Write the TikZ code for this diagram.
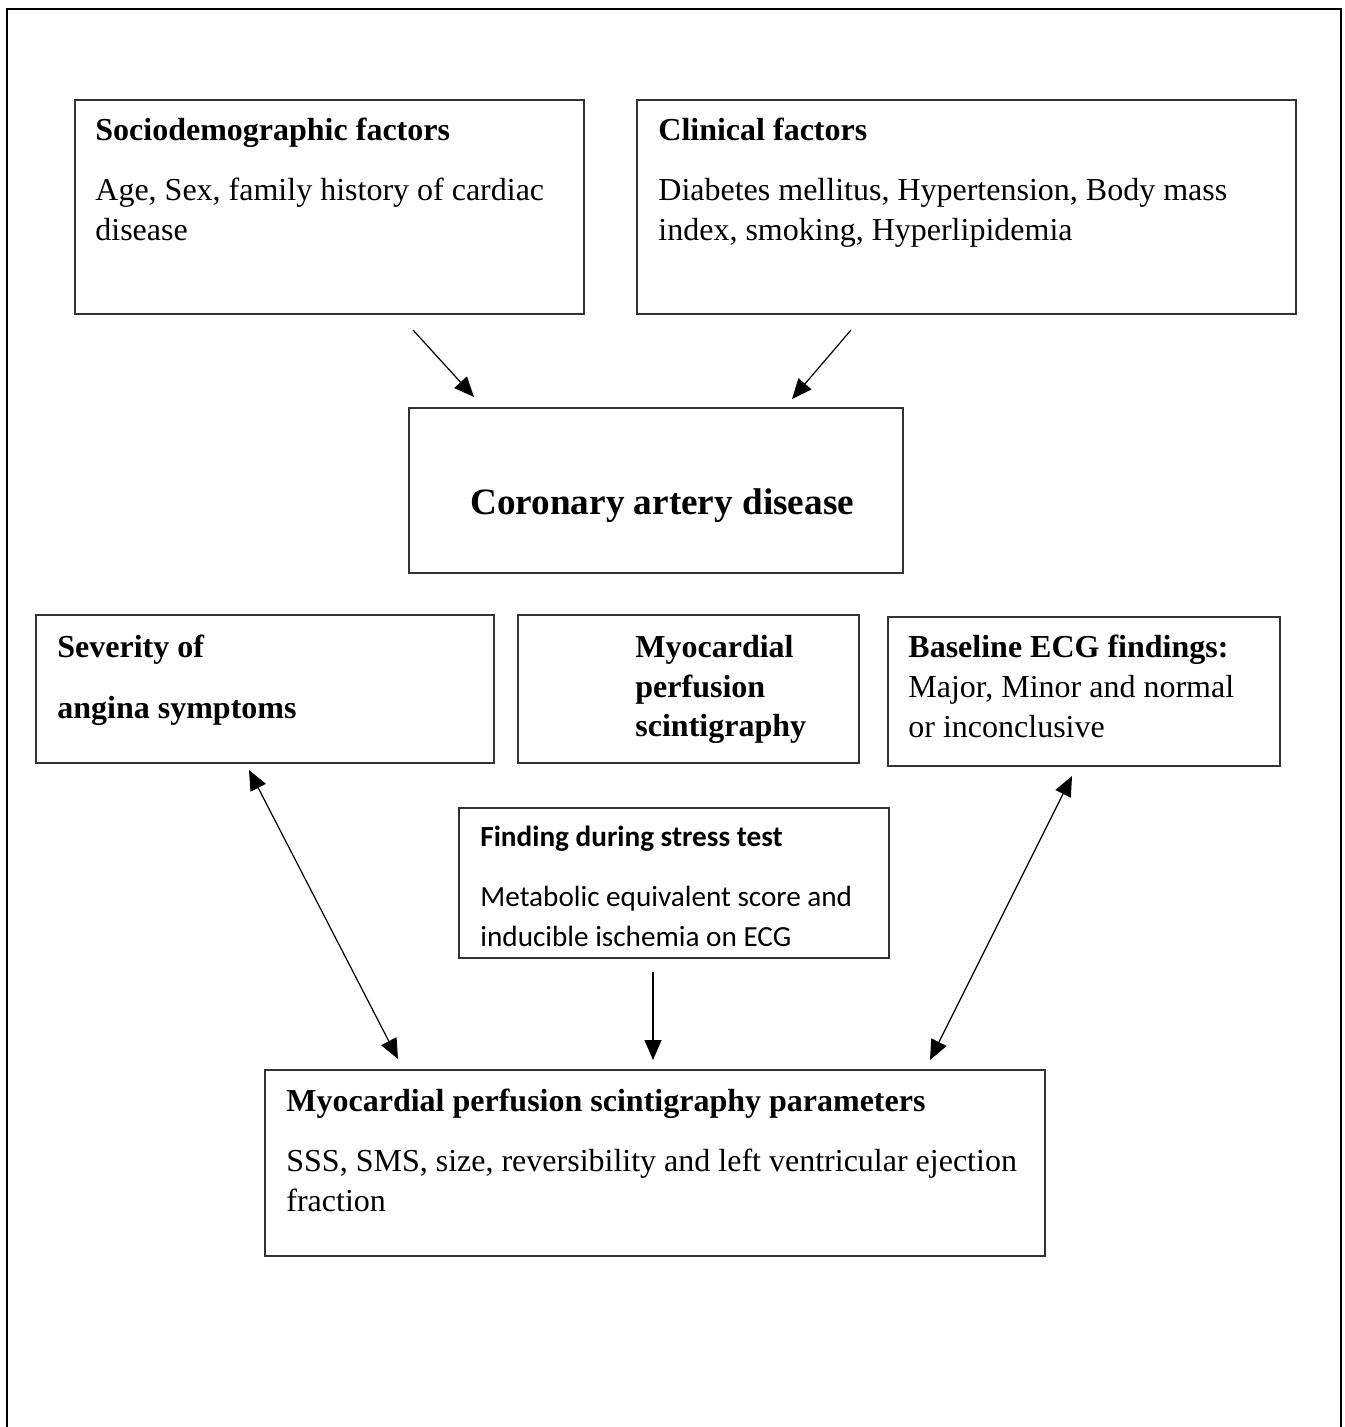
\documentclass[tikz,border=0pt]{standalone}
\usepackage{fontspec}
\setmainfont{Liberation Serif}
\newfontfamily\calib{Carlito}
\usetikzlibrary{arrows.meta,fit}
\tikzset{
  box/.style={draw=black!80, line width=0.8pt, inner sep=0pt, rectangle},
  txt/.style={anchor=base west, inner sep=0pt, font=\fontsize{16}{20}\selectfont},
  ttl/.style={txt, font=\fontsize{16}{20}\selectfont\bfseries},
  stxt/.style={anchor=base west, inner sep=0pt, font=\calib\fontsize{14.6}{18}\selectfont},
  sttl/.style={stxt, font=\calib\fontsize{14.6}{18}\selectfont\bfseries},
  tip/.tip={Triangle[length=10pt,width=8.5pt]},
  conn/.style={line width=0.6pt, -tip},
  bconn/.style={line width=0.6pt, tip-tip}
}
\begin{document}
\begin{tikzpicture}[x=0.5pt,y=-0.5pt]
\useasboundingbox (0,0) rectangle (1344,1427);
% outer frame (open at bottom)
\draw[line width=1pt] (7,1427) -- (7,9) -- (1341,9) -- (1341,1427);

% boxes
\node[box, fit={(75,100) (584,314)}] (soc) {};
\node[box, fit={(637,100) (1296,314)}] (cli) {};
\node[box, fit={(409,408) (903,573)}] (cad) {};
\node[box, fit={(36,615) (494,763)}] (sev) {};
\node[box, fit={(518,615) (859,763)}] (mps) {};
\node[box, fit={(888,617) (1280,766)}] (ecg) {};
\node[box, fit={(459,808) (889,958)}] (str) {};
\node[box, fit={(265,1070) (1045,1256)}] (par) {};

% texts
\node[ttl] (socT) at (95,141) {Sociodemographic factors};
\node[txt] (socA) at (95,201) {Age, Sex, family history of cardiac};
\node[txt] (socB) at (95,241) {disease};

\node[ttl] (cliT) at (658,141) {Clinical factors};
\node[txt] (cliA) at (658,201) {Diabetes mellitus, Hypertension, Body mass};
\node[txt] (cliB) at (658,241) {index, smoking, Hyperlipidemia};

\node[anchor=base west, inner sep=0pt, font=\fontsize{18.6}{22}\selectfont\bfseries] (cadT) at (470,514) {Coronary artery disease};

\node[ttl] (sevA) at (57,657) {Severity of};
\node[ttl] (sevB) at (57,718) {angina symptoms};

\node[ttl] (mpsA) at (635,657) {Myocardial};
\node[ttl] (mpsB) at (635,697) {perfusion};
\node[ttl] (mpsC) at (635,736) {scintigraphy};

\node[ttl] (ecgT) at (908,657) {Baseline ECG findings:};
\node[txt] (ecgA) at (908,697) {Major, Minor and normal};
\node[txt] (ecgB) at (908,737) {or inconclusive};

\node[sttl] (strT) at (480,846) {Finding during stress test};
\node[stxt] (strA) at (480,906) {Metabolic equivalent score and};
\node[stxt] (strB) at (480,946) {inducible ischemia on ECG};

\node[ttl] (parT) at (286,1111) {Myocardial perfusion scintigraphy parameters};
\node[txt] (parA) at (286,1171) {SSS, SMS, size, reversibility and left ventricular ejection};
\node[txt] (parB) at (286,1211) {fraction};

% connector end points
\coordinate (a1s) at (413,330); \coordinate (a1e) at (474,397);
\coordinate (a2s) at (851,330); \coordinate (a2e) at (792,399);
\coordinate (a3s) at (249,770); \coordinate (a3e) at (398,1059);
\coordinate (a4s) at (653,972); \coordinate (a4e) at (653,1060);
\coordinate (a5s) at (1072,776); \coordinate (a5e) at (930,1060);

\draw[conn] (a1s) -- (a1e);
\draw[conn] (a2s) -- (a2e);
\draw[bconn] (a3s) -- (a3e);
\draw[conn] (a4s) -- (a4e);
\draw[bconn] (a5s) -- (a5e);
\end{tikzpicture}
\end{document}
